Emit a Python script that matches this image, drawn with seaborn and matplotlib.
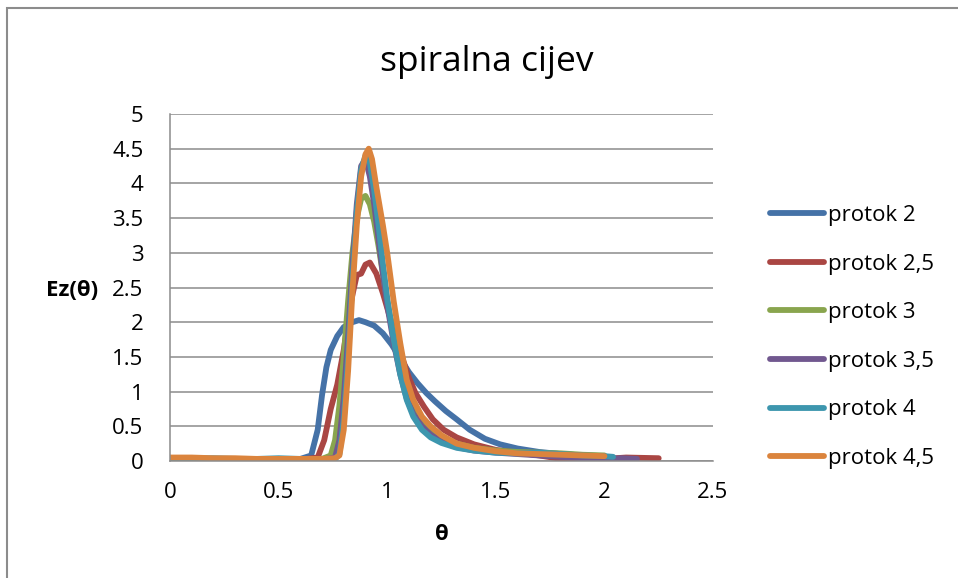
import numpy as np
import pandas as pd
import matplotlib
import matplotlib.pyplot as plt
import seaborn as sns
from matplotlib.patches import Rectangle

# theta / E(theta)
th_2 = [0, 0.1, 0.2, 0.3, 0.4, 0.5, 0.6, 0.65, 0.68, 0.70, 0.72, 0.74, 0.77, 0.80, 0.84, 0.87,
        0.90, 0.94, 0.98, 1.02, 1.06, 1.10, 1.14, 1.18, 1.22, 1.27, 1.32, 1.38, 1.45, 1.52,
        1.60, 1.70, 1.80, 1.90, 2.00]
e_2 = [0.03, 0.04, 0.03, 0.03, 0.02, 0.02, 0.03, 0.08, 0.45, 0.95, 1.35, 1.60, 1.80, 1.93, 2.00, 2.03,
       2.00, 1.95, 1.84, 1.68, 1.48, 1.28, 1.12, 0.98, 0.86, 0.72, 0.60, 0.45, 0.32, 0.24,
       0.18, 0.13, 0.10, 0.08, 0.06]

th_25 = [0, 0.1, 0.2, 0.3, 0.4, 0.5, 0.6, 0.68, 0.71, 0.74, 0.77, 0.80, 0.83, 0.86, 0.88, 0.90,
         0.92, 0.95, 0.98, 1.01, 1.04, 1.07, 1.10, 1.13, 1.17, 1.21, 1.26, 1.32, 1.40, 1.50,
         1.60, 1.70, 1.80, 1.90, 2.00, 2.10, 2.25]
e_25 = [0.03, 0.03, 0.03, 0.02, 0.02, 0.03, 0.02, 0.05, 0.30, 0.75, 1.10, 1.60, 2.25, 2.68, 2.70, 2.83,
        2.86, 2.70, 2.42, 2.10, 1.80, 1.48, 1.20, 0.98, 0.78, 0.60, 0.45, 0.34, 0.24, 0.16,
        0.12, 0.08, 0.03, 0.02, 0.03, 0.05, 0.04]

th_3 = [0, 0.1, 0.2, 0.3, 0.4, 0.5, 0.6, 0.7, 0.74, 0.76, 0.78, 0.80, 0.82, 0.84, 0.86, 0.88,
        0.90, 0.92, 0.94, 0.96, 0.98, 1.00, 1.03, 1.06, 1.09, 1.12, 1.16, 1.20, 1.25, 1.32,
        1.40, 1.50, 1.60, 1.70, 1.80, 1.90, 2.00]
e_3 = [0.03, 0.03, 0.02, 0.03, 0.02, 0.02, 0.02, 0.03, 0.08, 0.30, 0.80, 1.50, 2.30, 3.00, 3.50, 3.78,
       3.82, 3.70, 3.45, 3.10, 2.70, 2.30, 1.80, 1.35, 1.00, 0.78, 0.58, 0.45, 0.34, 0.25,
       0.19, 0.15, 0.13, 0.12, 0.11, 0.09, 0.08]

th_35 = [0, 0.1, 0.2, 0.3, 0.4, 0.5, 0.6, 0.7, 0.76, 0.78, 0.80, 0.82, 0.84, 0.86, 0.88, 0.90,
         0.92, 0.94, 0.96, 0.98, 1.00, 1.03, 1.06, 1.09, 1.12, 1.16, 1.20, 1.25, 1.32, 1.40,
         1.50, 1.60, 1.70, 1.80, 1.90, 2.00, 2.08, 2.15]
e_35 = [0.03, 0.02, 0.03, 0.02, 0.02, 0.03, 0.02, 0.02, 0.05, 0.30, 0.90, 1.80, 2.80, 3.70, 4.25, 4.35,
        4.10, 3.70, 3.20, 2.70, 2.25, 1.70, 1.25, 0.90, 0.68, 0.50, 0.38, 0.28, 0.20, 0.15,
        0.12, 0.10, 0.08, 0.06, 0.04, 0.03, 0.04, 0.03]

th_4 = [0, 0.1, 0.2, 0.3, 0.4, 0.5, 0.6, 0.7, 0.76, 0.78, 0.80, 0.82, 0.84, 0.86, 0.88, 0.90,
        0.92, 0.94, 0.96, 0.98, 1.00, 1.03, 1.06, 1.09, 1.12, 1.16, 1.20, 1.25, 1.32, 1.40,
        1.50, 1.60, 1.70, 1.80, 1.90, 2.00, 2.04]
e_4 = [0.04, 0.03, 0.04, 0.03, 0.03, 0.04, 0.03, 0.03, 0.03, 0.10, 0.60, 1.50, 2.60, 3.60, 4.20, 4.40,
       4.30, 3.90, 3.40, 2.85, 2.35, 1.75, 1.25, 0.88, 0.64, 0.45, 0.34, 0.26, 0.19, 0.15,
       0.12, 0.11, 0.12, 0.10, 0.08, 0.07, 0.06]

th_45 = [0, 0.1, 0.2, 0.3, 0.4, 0.5, 0.6, 0.7, 0.76, 0.78, 0.80, 0.82, 0.84, 0.86, 0.88, 0.90,
         0.915, 0.93, 0.95, 0.98, 1.00, 1.03, 1.06, 1.09, 1.12, 1.16, 1.20, 1.25, 1.32, 1.40,
         1.50, 1.60, 1.70, 1.80, 1.90, 2.00]
e_45 = [0.05, 0.05, 0.04, 0.04, 0.03, 0.03, 0.03, 0.03, 0.04, 0.08, 0.45, 1.30, 2.45, 3.40, 4.10, 4.42,
        4.50, 4.35, 3.95, 3.40, 3.00, 2.30, 1.70, 1.17, 0.88, 0.64, 0.50, 0.37, 0.25, 0.19,
        0.14, 0.11, 0.10, 0.09, 0.08, 0.07]

labels = ['protok 2', 'protok 2,5', 'protok 3', 'protok 3,5', 'protok 4', 'protok 4,5']
colors = ['#4572A7', '#AA4643', '#89A54E', '#71588F', '#3D96AE', '#DB843D']
series = [(th_2, e_2), (th_25, e_25), (th_3, e_3), (th_35, e_35), (th_4, e_4), (th_45, e_45)]

sns.set_style('white')
plt.rcParams['font.family'] = ['Open Sans', 'DejaVu Sans']
plt.rcParams['text.color'] = 'black'
plt.rcParams['xtick.color'] = 'black'
plt.rcParams['ytick.color'] = 'black'

fig = plt.figure(figsize=(9.58, 5.78), dpi=100)
ax = fig.add_axes([170 / 958, 1 - 461 / 578, 543 / 958, 347 / 578])

for (th, e), lab, c in zip(series, labels, colors):
    df = pd.DataFrame({'theta': th, 'E': e})
    sns.lineplot(data=df, x='theta', y='E', ax=ax, color=c, lw=4.2, label=lab,
                 estimator=None, solid_capstyle='round', solid_joinstyle='round')

ax.set_xlim(0, 2.5)
ax.set_ylim(0, 5)
ax.set_xticks(np.arange(0, 2.51, 0.5))
ax.set_xticklabels(['0', '0.5', '1', '1.5', '2', '2.5'])
ax.set_yticks(np.arange(0, 5.01, 0.5))
ax.set_yticklabels(['0', '0.5', '1', '1.5', '2', '2.5', '3', '3.5', '4', '4.5', '5'])
ax.yaxis.grid(True, color='#8c8c8c', lw=1.1)
ax.xaxis.grid(False)
ax.set_axisbelow(True)
for s in ['top', 'right']:
    ax.spines[s].set_visible(False)
for s in ['left', 'bottom']:
    ax.spines[s].set_color('#8c8c8c')
    ax.spines[s].set_linewidth(1.1)
ax.tick_params(axis='y', length=0, pad=19, labelsize=16)
ax.tick_params(axis='x', length=0, pad=15, labelsize=16)
ax.set_xlabel('')
ax.set_ylabel('')

fig.text(72 / 958, 1 - 290 / 578, 'Ez(θ)', ha='center', va='center', fontsize=16, fontweight='bold')
fig.text(442 / 958, 1 - 535 / 578, 'θ', ha='center', va='center', fontsize=16, fontweight='bold')
fig.text(487 / 958, 1 - 62 / 578, 'spiralna cijev', ha='center', va='center', fontsize=25.5)

ax.legend(loc='center left', bbox_to_anchor=(770 / 958, 1 - 337 / 578),
          bbox_transform=fig.transFigure, frameon=False, fontsize=16,
          handlelength=2.45, handletextpad=0.15, labelspacing=1.24, borderpad=0,
          borderaxespad=0)

# chart area border (only left and top edges fall inside the picture)
fig.patches.append(Rectangle((7 / 958, -0.1), 1.2, (1 - 8 / 578) + 0.1, transform=fig.transFigure,
                             fill=False, edgecolor='#8c8c8c', lw=1.5))

fig.savefig('out.png', dpi=100)
